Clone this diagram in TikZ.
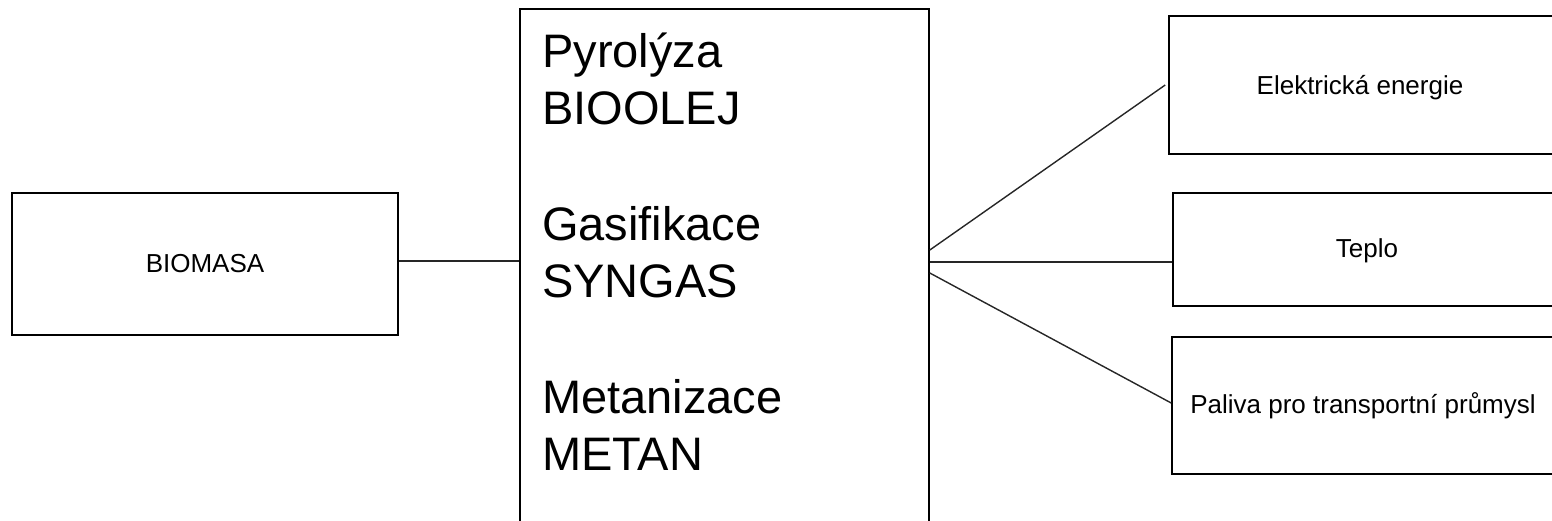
\documentclass[tikz,border=0pt]{standalone}
\usepackage{fontspec}
\setmainfont{Liberation Sans}
\begin{document}
\begin{tikzpicture}[x=1pt,y=-1pt,
  box/.style={draw=black, line width=1.6pt, inner sep=0pt, fill=none},
  link/.style={draw=black!85, line width=1.4pt},
  small/.style={font=\fontsize{26}{30}\selectfont, inner sep=0pt, anchor=base},
  big/.style={font=\fontsize{47}{57.6}\selectfont, inner sep=0pt, anchor=base west, align=left}]
\useasboundingbox (0,0) rectangle (1552,520);
\clip (0,0) rectangle (1552,520);
% boxes
\node[box, minimum width=386pt, minimum height=142pt] (bio) at (205,264) {};
\node[box, minimum width=409pt, minimum height=521pt] (mid) at (524.5+200,269.5) {};
\node[box, minimum width=391pt, minimum height=138pt] (elek) at (1364.5,85) {};
\node[box, minimum width=387pt, minimum height=113pt] (teplo) at (1366.5,249.5) {};
\node[box, minimum width=388pt, minimum height=137pt] (paliva) at (1366,405.5) {};
% texts
\node[small] (tbio) at (205,272) {BIOMASA};
\node[small] (telek) at (1360,94) {Elektrická energie};
\node[small] (tteplo) at (1367,257) {Teplo};
\node[small] (tpal) at (1363,413) {Paliva pro transportní průmysl};
\node[big] (t1) at (542,67) {Pyrolýza};
\node[big] (t2) at (542,124) {BIOOLEJ};
\node[big] (t3) at (542,240) {Gasifikace};
\node[big] (t4) at (542,297) {SYNGAS};
\node[big] (t5) at (542,413) {Metanizace};
\node[big] (t6) at (542,470) {METAN};
% connectors
\draw[link] ([yshift=3pt]bio.east) -- ([yshift=8.5pt]mid.west);
\draw[link] ([yshift=19.5pt]mid.east) -- ([xshift=-3pt]elek.west);
\draw[link] ([yshift=7.5pt]mid.east) -- ([yshift=-12.5pt]teplo.west);
\draw[link] ([yshift=-3.5pt]mid.east) -- ([yshift=2.5pt]paliva.west);
\end{tikzpicture}
\end{document}
